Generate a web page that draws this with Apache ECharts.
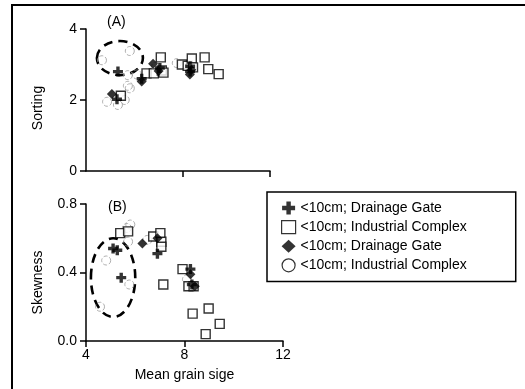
<!DOCTYPE html>
<html><head><meta charset="utf-8">
<script src="https://cdn.jsdelivr.net/npm/echarts@6/dist/echarts.min.js"></script>
<style>html,body{margin:0;padding:0;background:#fff}#c{width:525px;height:389px}</style>
</head><body><div id="c"></div>
<script>
// ---- data ----
const legendNames = ['<10cm; Drainage Gate', '<10cm; Industrial Complex', '<10cm; Drainage Gate ', '<10cm; Industrial Complex '];
const xTicksB = [4, 8, 12];
const yTicksA = [0, 2, 4];
const yTicksB = [0, 0.4, 0.8];
// Panel A: Sorting vs mean grain size
const crossA = [[5.32,2.8],[5.28,2.02],[6.3,2.6],[7.05,2.9],[8.3,2.95],[8.3,2.8]];
const squareA = [[5.44,2.12],[6.5,2.75],[6.8,2.75],[7.09,3.2],[7.13,2.83],[7.2,2.77],[7.96,3.0],[8.2,2.96],[8.37,3.17],[8.42,2.92],[8.9,3.2],[9.05,2.87],[9.48,2.73]];
const diamondA = [[5.07,2.17],[6.3,2.52],[6.77,3.02],[7.0,2.82],[8.29,2.72],[8.35,2.85]];
const circleA = [[4.66,3.12],[5.81,3.38],[5.73,2.7],[6.1,2.72],[5.73,2.4],[5.81,2.33],[4.87,1.95],[5.32,1.86],[5.6,2.0],[7.75,3.04],[6.9,2.95]];
// Panel B: Skewness vs mean grain size
const crossB = [[5.1,0.54],[5.27,0.53],[5.43,0.37],[6.9,0.51],[8.24,0.42],[8.3,0.33]];
const squareB = [[5.39,0.63],[5.71,0.64],[6.73,0.61],[7.02,0.63],[7.06,0.58],[7.06,0.55],[7.92,0.42],[7.14,0.33],[8.16,0.32],[8.37,0.32],[8.33,0.16],[8.98,0.19],[9.43,0.10],[8.86,0.04]];
const diamondB = [[6.29,0.57],[6.9,0.6],[8.24,0.39],[8.42,0.32]];
const circleB = [[5.8,0.68],[5.66,0.66],[5.71,0.58],[4.82,0.47],[5.76,0.33],[4.57,0.20],[6.49,0.59],[8.1,0.36]];
// dashed ellipses: [centerX, centerY, radiusX, radiusY] in data units
const ellipseA = [[5.4, 3.18, 0.95, 0.48]];
const ellipseB = [[5.1, 0.37, 0.9, 0.23]];

// ---- chart ----
const FONT = 'Liberation Sans, Arial, sans-serif';
const PLUS = 'path://M3.3,0H6.7V3.3H10V6.7H6.7V10H3.3V6.7H0V3.3H3.3Z';
const chart = echarts.init(document.getElementById('c'));
const tickStyle = {show: true, length: 6, lineStyle: {color: '#000', width: 1.5}};
const labelStyle = {color: '#000', fontSize: 14, fontFamily: FONT, margin: 9};
const axisCommon = {
  axisLine: {show: true, lineStyle: {color: '#000', width: 1.5}},
  axisTick: tickStyle,
  axisLabel: labelStyle,
  splitLine: {show: false}
};
function scat(name, data, xi, sym, size, style) {
  return {type: 'scatter', name: name, xAxisIndex: xi, yAxisIndex: xi, data: data,
    symbol: sym, symbolSize: size, itemStyle: style, emphasis: {disabled: true}, z: 3};
}
const plusStyle = {color: '#000'};
const squareStyle = {color: '#fff', borderColor: '#000', borderWidth: 1.4};
const diamondStyle = {color: '#000'};
const circleStyle = {color: 'rgba(0,0,0,0)', borderColor: '#9a9a9a', borderWidth: 1, borderType: 'dashed'};
function ellipseSeries(data, idx) {
  return {type: 'custom', xAxisIndex: idx, yAxisIndex: idx, data: data, silent: true, z: 2,
    renderItem: function (params, api) {
      const c = api.coord([api.value(0), api.value(1)]);
      const s = api.size([api.value(2), api.value(3)]);
      return {type: 'ellipse', shape: {cx: c[0], cy: c[1], rx: s[0], ry: s[1]},
        style: {fill: 'none', stroke: '#000', lineWidth: 2.6, lineDash: [9, 6]}};
    }};
}
chart.setOption({
  animation: false,
  textStyle: {fontFamily: FONT},
  grid: [
    {left: 86, top: 29, width: 184, height: 142},
    {left: 86, top: 204, width: 197, height: 137}
  ],
  xAxis: [
    Object.assign({}, axisCommon, {gridIndex: 0, type: 'value', min: 4, max: 11.6,
      axisLabel: {show: false},
      axisTick: Object.assign({}, tickStyle, {customValues: [8, 11.6]})}),
    Object.assign({}, axisCommon, {gridIndex: 1, type: 'value', min: xTicksB[0], max: xTicksB[2], interval: 4,
      axisLabel: Object.assign({}, labelStyle, {margin: 7}),
      name: 'Mean grain sige', nameLocation: 'middle', nameGap: 27,
      nameTextStyle: {color: '#000', fontSize: 14, fontFamily: FONT}})
  ],
  yAxis: [
    Object.assign({}, axisCommon, {gridIndex: 0, type: 'value', min: yTicksA[0], max: yTicksA[2], interval: 2,
      name: 'Sorting', nameLocation: 'middle', nameGap: 41, nameRotate: 90,
      nameTextStyle: {color: '#000', fontSize: 14, fontFamily: FONT, padding: [0, 16, 0, 0]}}),
    Object.assign({}, axisCommon, {gridIndex: 1, type: 'value', min: yTicksB[0], max: yTicksB[2], interval: 0.4,
      axisLabel: Object.assign({}, labelStyle, {formatter: v => v.toFixed(1)}),
      name: 'Skewness', nameLocation: 'middle', nameGap: 41, nameRotate: 90,
      nameTextStyle: {color: '#000', fontSize: 14, fontFamily: FONT, padding: [0, 20, 0, 0]}})
  ],
  title: [
    {text: '(A)', left: 107, top: 15, padding: 0, textStyle: {fontSize: 14, fontWeight: 'normal', color: '#000', fontFamily: FONT}},
    {text: '(B)', left: 108, top: 200, padding: 0, textStyle: {fontSize: 14, fontWeight: 'normal', color: '#000', fontFamily: FONT}}
  ],
  legend: {
    orient: 'vertical', left: 267, top: 192,
    padding: [9, 49, 9, 14], itemGap: 5, itemWidth: 14, itemHeight: 13,
    borderColor: '#000', borderWidth: 1.5, backgroundColor: '#fff',
    textStyle: {color: '#000', fontSize: 14, fontFamily: FONT},
    formatter: n => n.trim(),
    selectedMode: false,
    data: [
      {name: legendNames[0], icon: PLUS},
      {name: legendNames[1], icon: 'rect', itemStyle: {color: '#fff', borderColor: '#000', borderWidth: 1.2}},
      {name: legendNames[2], icon: 'diamond'},
      {name: legendNames[3], icon: 'circle', itemStyle: {color: '#fff', borderColor: '#000', borderWidth: 1.2, borderType: 'solid'}}
    ]
  },
  graphic: [
    {type: 'polyline', shape: {points: [[12, 400], [12, 5], [530, 5]]},
      style: {fill: 'none', stroke: '#000', lineWidth: 2}, silent: true, z: 0}
  ],
  series: [
    ellipseSeries(ellipseA, 0),
    ellipseSeries(ellipseB, 1),
    scat(legendNames[3], circleA, 0, 'circle', 9, circleStyle),
    scat(legendNames[1], squareA, 0, 'rect', 9, squareStyle),
    scat(legendNames[2], diamondA, 0, 'diamond', 10, diamondStyle),
    scat(legendNames[0], crossA, 0, PLUS, 10, plusStyle),
    scat(legendNames[3], circleB, 1, 'circle', 9, circleStyle),
    scat(legendNames[1], squareB, 1, 'rect', 9, squareStyle),
    scat(legendNames[2], diamondB, 1, 'diamond', 10, diamondStyle),
    scat(legendNames[0], crossB, 1, PLUS, 10, plusStyle)
  ]
});
</script></body></html>
